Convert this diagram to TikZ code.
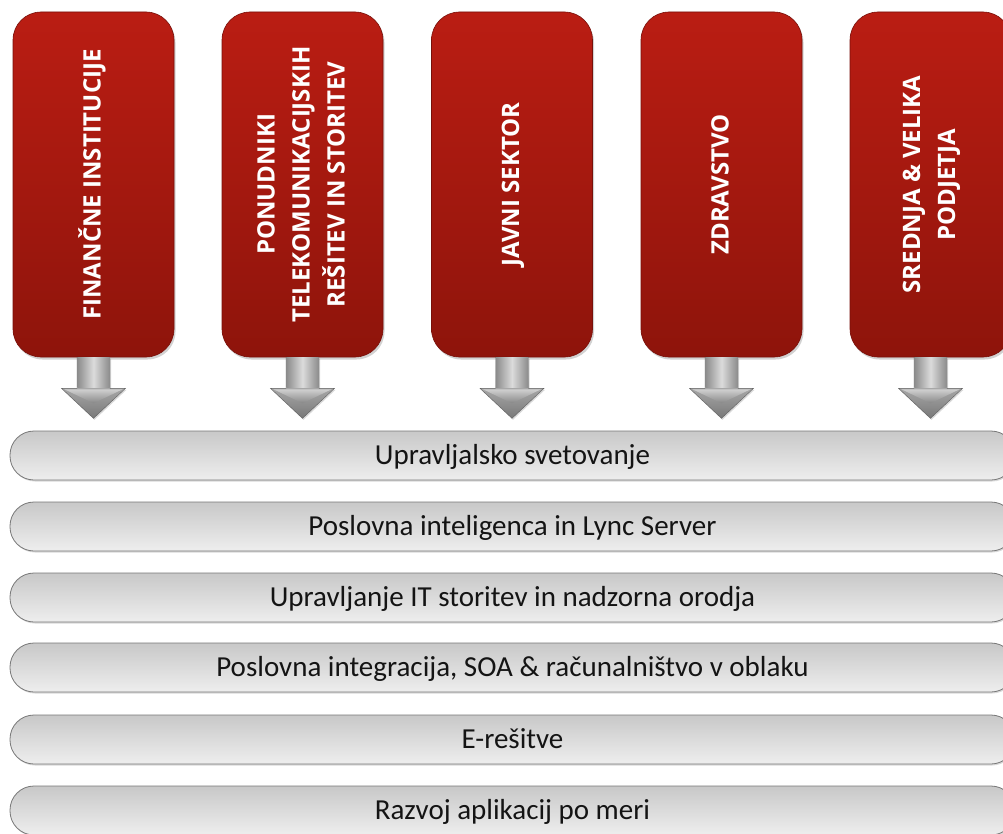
\documentclass[tikz,border=0pt]{standalone}
\usepackage{fontspec}
\setmainfont{Carlito}
\newfontfamily\boxfont{Open Sans}
\usetikzlibrary{shadows,calc}
\definecolor{redtop}{RGB}{186,29,19}
\definecolor{redbot}{RGB}{142,20,11}
\definecolor{redline}{RGB}{120,16,10}
\definecolor{bartop}{RGB}{200,200,200}
\definecolor{barbot}{RGB}{238,238,238}
\definecolor{barline}{RGB}{120,120,120}
\definecolor{arrtop}{RGB}{215,215,215}
\definecolor{arrbot}{RGB}{120,120,120}
\definecolor{txt}{RGB}{20,20,20}
\tikzset{
  redbox/.style={rounded corners=28pt, minimum width=161pt, minimum height=345pt,
    inner sep=0pt, top color=redtop, bottom color=redbot, draw=redline, line width=0.6pt,
    drop shadow={opacity=0.35, shadow xshift=1.5pt, shadow yshift=-2.5pt},
    text=white, font=\boxfont\bfseries\fontsize{24}{35}\selectfont},
  barbox/.style={rounded corners=24pt, minimum width=1005pt, minimum height=49pt,
    inner sep=0pt, top color=bartop, bottom color=barbot, draw=barline, line width=0.8pt,
    drop shadow={opacity=0.3, shadow xshift=1pt, shadow yshift=-1.5pt},
    text=txt, text height=22pt, text depth=5pt, font=\fontsize{29}{34}\selectfont},
  greyarrow/.style={top color=arrtop, bottom color=arrbot, draw=arrbot!80!black, line width=0.4pt,
    drop shadow={opacity=0.3, shadow xshift=1pt, shadow yshift=-1.5pt}},
  shaftshine/.style={left color=arrbot!85!white, right color=arrbot!85!white, middle color=arrtop!90!white}
}
\newcommand{\vtext}[1]{\rotatebox{90}{\begin{tabular}{@{}c@{}}#1\end{tabular}}}
\begin{document}
\begin{tikzpicture}[x=1pt,y=-1pt]
\useasboundingbox (0,0) rectangle (1003,834);
\clip (0,0) rectangle (1003,834);
\fill[white] (0,0) rectangle (1003,834);

% red boxes
\node[redbox] (b1) at (93.5,184.5) {\vtext{FINANČNE INSTITUCIJE}};
\node[redbox] (b2) at (302.5,184.5) {\vtext{PONUDNIKI\\TELEKOMUNIKACIJSKIH\\REŠITEV IN STORITEV}};
\node[redbox] (b3) at (512,184.5) {\vtext{JAVNI SEKTOR}};
\node[redbox] (b4) at (721.5,184.5) {\vtext{ZDRAVSTVO}};
\node[redbox] (b5) at (930.5,184.5) {\vtext{SREDNJA \& VELIKA\\PODJETJA}};

% arrows
\foreach \b in {b1,b2,b3,b4,b5}{
  \path[greyarrow] ($(\b.south)+(-16.5,0)$) -- ($(\b.south)+(16.5,0)$) -- ($(\b.south)+(16.5,31)$)
    -- ($(\b.south)+(32,31)$) -- ($(\b.south)+(0,61)$) -- ($(\b.south)+(-32,31)$)
    -- ($(\b.south)+(-16.5,31)$) -- cycle;
  \path[shaftshine] ($(\b.south)+(-16,0.5)$) rectangle ($(\b.south)+(16,30.5)$);
  \path[top color=arrtop!90!white, bottom color=arrbot!90!white, opacity=0.8]
    ($(\b.south)+(-29,32)$) -- ($(\b.south)+(29,32)$) -- ($(\b.south)+(0,46)$) -- cycle;
}

% bars
\node[barbox] (r1) at (512.5,455.5) {Upravljalsko svetovanje};
\node[barbox] (r2) at (512.5,526.5) {Poslovna inteligenca in Lync Server};
\node[barbox] (r3) at (512.5,597.5) {Upravljanje IT storitev in nadzorna orodja};
\node[barbox] (r4) at (512.5,667.5) {Poslovna integracija, SOA \& računalništvo v oblaku};
\node[barbox] (r5) at (512.5,739.5) {E-rešitve};
\node[barbox] (r6) at (512.5,810.5) {Razvoj aplikacij po meri};
\end{tikzpicture}
\end{document}
